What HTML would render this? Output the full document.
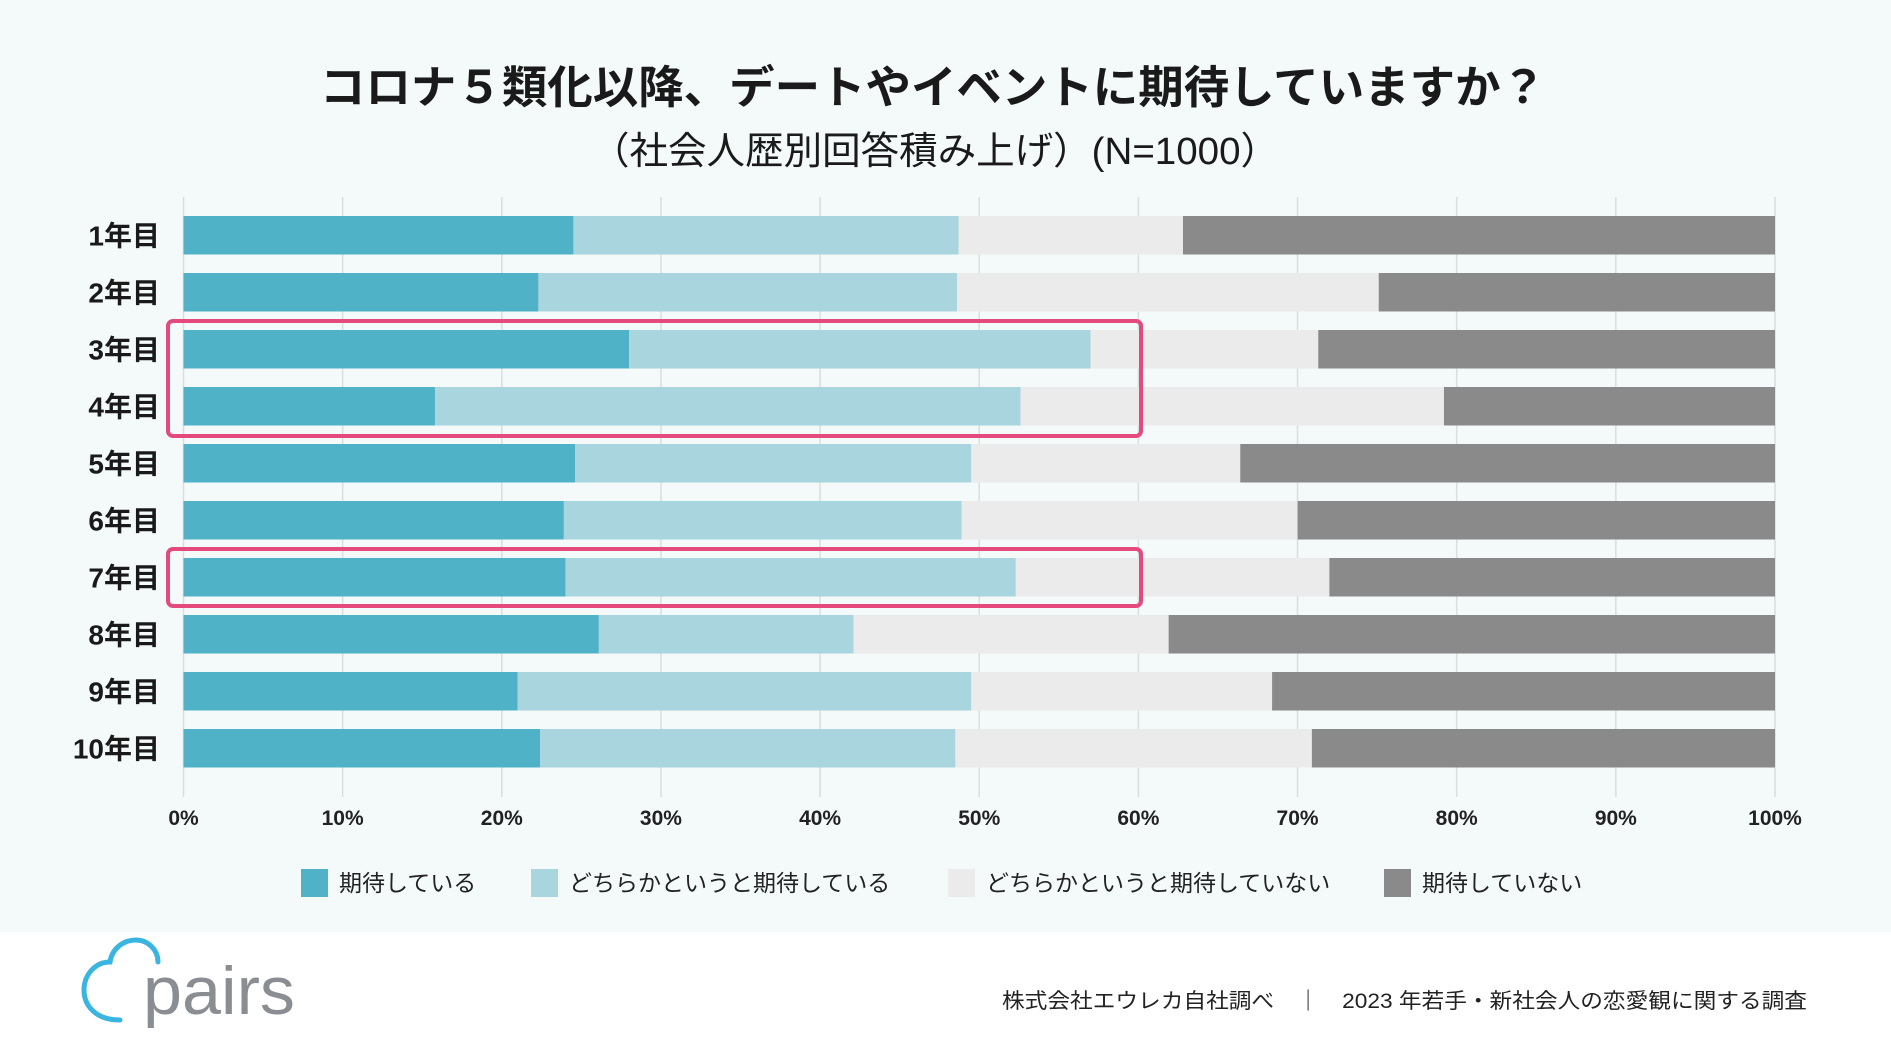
<!DOCTYPE html>
<html><head><meta charset="utf-8">
<style>
html,body{margin:0;padding:0;background:#fff;}
svg{display:block;font-family:"Liberation Sans","Noto Sans CJK JP",sans-serif;}
</style></head>
<body>
<svg id="chart" width="1891" height="1064" viewBox="0 0 1891 1064" xmlns="http://www.w3.org/2000/svg">
<rect x="0" y="0" width="1891" height="932" fill="#f4f9fa"/>
<text x="933" y="103" text-anchor="middle" font-size="45" font-weight="bold" fill="#1a1a1a" textLength="1226" lengthAdjust="spacingAndGlyphs">コロナ５類化以降、デートやイベントに期待していますか？</text>
<text x="935" y="164" text-anchor="middle" font-size="38" fill="#1a1a1a" textLength="688" lengthAdjust="spacingAndGlyphs">（社会人歴別回答積み上げ）(N=1000）</text>
<g id="grid"></g>
<g id="bars"></g>
<g id="labels"></g>
<g id="ticks"></g>
<rect x="168" y="321" width="973" height="115" rx="5" fill="none" stroke="#e44a7b" stroke-width="4"/>
<rect x="168" y="549" width="973" height="57" rx="5" fill="none" stroke="#e44a7b" stroke-width="4"/>
<g id="legend"></g>
<g>
<path d="M120 1020 C95 1020 84 1005 84 990 C84 975 95 962 110 962 C112 948 124 940 136 940 C148 940 158 950 158 962" fill="none" stroke="#3ab4e0" stroke-width="5" stroke-linecap="round"/>
<text x="143" y="1014" font-size="68" fill="#8a8d92" textLength="152" lengthAdjust="spacingAndGlyphs">pairs</text>
</g>
<text x="1807" y="1008" text-anchor="end" font-size="21" fill="#222" textLength="805" lengthAdjust="spacingAndGlyphs">株式会社エウレカ自社調べ　｜　2023 年若手・新社会人の恋愛観に関する調査</text>
</svg>
<script>
const categories = ["1年目","2年目","3年目","4年目","5年目","6年目","7年目","8年目","9年目","10年目"];
const seriesNames = ["期待している","どちらかというと期待している","どちらかというと期待していない","期待していない"];
const expect = [24.5,22.3,28.0,15.8,24.6,23.9,24.0,26.1,21.0,22.4];
const ratherExpect = [24.2,26.3,29.0,36.8,24.9,25.0,28.3,16.0,28.5,26.1];
const ratherNot = [14.1,26.5,14.3,26.6,16.9,21.1,19.7,19.8,18.9,22.4];
const notExpect = [37.2,24.9,28.7,20.8,33.6,30.0,28.0,38.1,31.6,29.1];
const tickValues = [0,10,20,30,40,50,60,70,80,90,100];
const tickLabels = ["0%","10%","20%","30%","40%","50%","60%","70%","80%","90%","100%"];

const colors = ["#4fb2c6","#a9d5de","#ebebeb","#8a8a8a"];
const NS = "http://www.w3.org/2000/svg";
const X0 = 183.5, X1 = 1775;
const xScale = v => X0 + (X1 - X0) * v / 100;
const yTop = i => 216 + i * 57;
const BH = 38.5;
function mk(tag, attrs, parent){const e=document.createElementNS(NS,tag);for(const k in attrs)e.setAttribute(k,attrs[k]);parent.appendChild(e);return e;}

const grid=document.getElementById('grid');
const ticks=document.getElementById('ticks');
tickValues.forEach((t,i)=>{
  const l=mk('line',{x1:xScale(t),x2:xScale(t),y1:197,y2:797,stroke:'#d9dedf','stroke-width':1.5},grid);
  
  
  const tx=mk('text',{x:xScale(t),y:825,'text-anchor':'middle','font-size':21,'font-weight':'bold',fill:'#222'},ticks);
  tx.textContent=tickLabels[i];
  
  
});

const bars=document.getElementById('bars');
const labels=document.getElementById('labels');
const series=[expect,ratherExpect,ratherNot,notExpect];
categories.forEach((c,i)=>{
  const total=series.reduce((s,a)=>s+a[i],0);
  let acc=0;
  series.forEach((arr,s)=>{
    const v=arr[i]/total*100;
    const r=mk('rect',{x:xScale(acc),y:yTop(i),width:xScale(acc+v)-xScale(acc),height:BH,fill:colors[s]},bars);
    
    
    acc+=v;
  });
  const t=mk('text',{x:160,y:yTop(i)+BH/2+10,'text-anchor':'end','font-size':28,'font-weight':'bold',fill:'#1a1a1a'},labels);
  t.textContent=c;
  
  
});

const legend=document.getElementById('legend');
const legX=[301,531,948,1384];
seriesNames.forEach((n,i)=>{
  const g=mk('g',{},legend);
  
  
  mk('rect',{x:legX[i],y:869,width:27,height:28,fill:colors[i]},g);
  const t=mk('text',{x:legX[i]+38,y:891,'font-size':23,fill:'#222'},g);
  t.textContent=n;
});
</script>
</body></html>
